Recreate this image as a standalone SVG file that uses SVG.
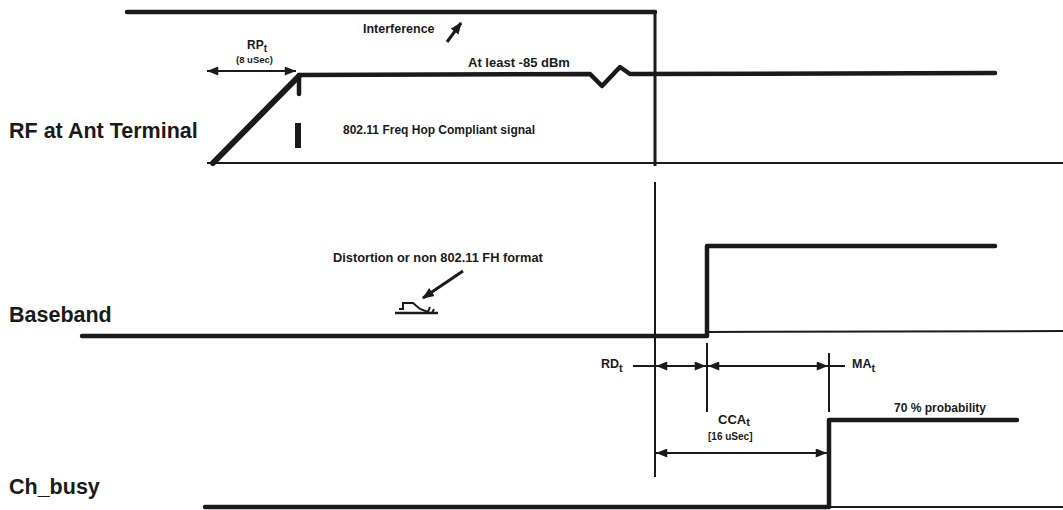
<svg xmlns="http://www.w3.org/2000/svg" width="1063" height="510" viewBox="0 0 1063 510">
<style>
.lbl{font-family:"Liberation Sans",Arial,sans-serif;font-weight:bold;fill:#1a1a1a}
.big{font-size:21.5px}
.sm{font-size:12px}
.xs{font-size:9.5px}
.thick{stroke:#1a1a1a;stroke-width:4.5;fill:none;stroke-linecap:round;stroke-linejoin:round}
.med{stroke:#1a1a1a;stroke-width:3;fill:none;stroke-linecap:butt}
.thin{stroke:#1a1a1a;stroke-width:2;fill:none}
.dim{stroke:#1a1a1a;stroke-width:2;fill:none;marker-start:url(#ah);marker-end:url(#ah)}
</style>
<defs>
<marker id="ah" viewBox="0 0 10 8" refX="10" refY="4" markerWidth="6" markerHeight="4.5" orient="auto-start-reverse" markerUnits="strokeWidth">
<path d="M0,0 L10,4 L0,8 Z" fill="#1a1a1a"/>
</marker>
<marker id="ah2" viewBox="0 0 10 8" refX="9" refY="4" markerWidth="4" markerHeight="3.5" orient="auto" markerUnits="strokeWidth">
<path d="M0,0 L10,4 L0,8 Z" fill="#1a1a1a"/>
</marker>
</defs>
<rect width="1063" height="510" fill="#fff"/>

<g id="labels">
<text class="lbl big" x="9" y="138">RF at Ant Terminal</text>
<text class="lbl big" x="9" y="322">Baseband</text>
<text class="lbl big" x="9" y="494">Ch_busy</text>
</g>

<g id="rf-signal">
<path class="thick" d="M127,12 L655,12"/>
<path class="thin" d="M207,163 L1063,163"/>
<path class="thick" d="M213,163 L299,76" style="stroke-width:6"/>
<path class="thick" d="M299,76 L299,94"/>
<path class="thick" d="M299,75 L590,74 L602,86 L620,67 L630,74 L995,73"/>
<rect x="295" y="123" width="6" height="25" fill="#1a1a1a"/>
<text class="lbl" x="363" y="33" font-size="12.5">Interference</text>
<path d="M447,42 L461,23" stroke="#1a1a1a" stroke-width="3" marker-end="url(#ah2)"/>
<text class="lbl" x="247" y="49" font-size="12">RP<tspan font-size="10" dy="3">t</tspan></text>
<text class="lbl xs" x="236" y="63">(8 uSec)</text>
<path class="dim" d="M207,71 L296,71"/>
<text class="lbl" x="468" y="67" font-size="13">At least -85 dBm</text>
<text class="lbl sm" x="343" y="134">802.11 Freq Hop Compliant signal</text>
</g>

<g id="baseband">
<path class="thick" d="M82,336 L707,336 L707,246 L995,246"/>
<path class="thin" d="M707,332 L1063,331"/>
<text class="lbl" x="333" y="262" font-size="12.8">Distortion or non 802.11 FH format</text>
<path d="M463,271 L423,298" stroke="#1a1a1a" stroke-width="3" marker-end="url(#ah2)"/>
<path class="thin" d="M395,313 L438,313" style="stroke-width:2.5"/>
<path class="thin" d="M399,309 L403,309 L403,303 L413,303 L420,309 L428,312 L430,307 M432,313 L434,309"/>
</g>

<g id="ch-busy">
<path class="thick" d="M205,507 L829,507 L829,420 L1017,420"/>
<path class="thin" d="M829,507 L1063,507"/>
<text class="lbl sm" x="894" y="412">70 % probability</text>
</g>

<g id="connectors">
<path class="med" d="M655,10 L655,166"/>
<path class="thin" d="M655,182 L655,477"/>
<path class="thin" d="M707,343 L707,412"/>
<path class="thin" d="M829,353 L829,412"/>
<path class="thin" d="M633,366 L655,366"/>
<path class="thin" d="M829,366 L845,366"/>
<path class="dim" d="M656,366 L706,366"/>
<path class="dim" d="M708,366 L828,366"/>
<path class="dim" d="M656,453 L827,453"/>
<text class="lbl" x="601" y="368" font-size="12.5">RD<tspan font-size="11" dy="4">t</tspan></text>
<text class="lbl" x="852" y="368" font-size="12.5">MA<tspan font-size="11" dy="4">t</tspan></text>
<text class="lbl" x="718" y="424" font-size="13">CCA<tspan font-size="11" dy="2">t</tspan></text>
<text class="lbl" x="708" y="440" font-size="10">[16 uSec]</text>
</g>
</svg>
